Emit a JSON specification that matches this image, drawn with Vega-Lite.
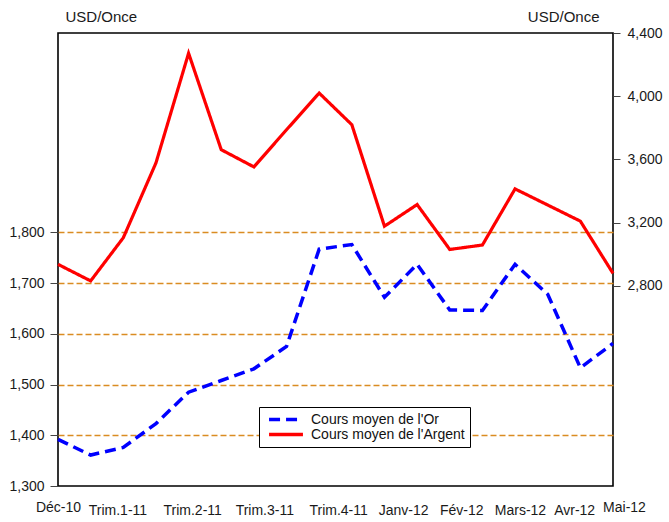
{
  "$schema": "https://vega.github.io/schema/vega-lite/v6.json",
  "width": 555,
  "height": 453,
  "autosize": {"type": "none"},
  "padding": {"left": 58, "top": 33, "right": 56, "bottom": 36},
  "background": "white",
  "config": {
    "view": {"stroke": "black", "strokeWidth": 1.6},
    "font": "Liberation Sans",
    "axis": {"labelFont": "Liberation Sans", "titleFont": "Liberation Sans", "labelColor": "#1a1a1a", "titleColor": "#1a1a1a", "titleFontWeight": "normal"}
  },
  "data": {
    "values": [
      {"i": 0, "series": "Cours moyen de l'Or", "value": 1392},
      {"i": 1, "series": "Cours moyen de l'Or", "value": 1361},
      {"i": 2, "series": "Cours moyen de l'Or", "value": 1376},
      {"i": 3, "series": "Cours moyen de l'Or", "value": 1423},
      {"i": 4, "series": "Cours moyen de l'Or", "value": 1485},
      {"i": 5, "series": "Cours moyen de l'Or", "value": 1508},
      {"i": 6, "series": "Cours moyen de l'Or", "value": 1531},
      {"i": 7, "series": "Cours moyen de l'Or", "value": 1575},
      {"i": 8, "series": "Cours moyen de l'Or", "value": 1767},
      {"i": 9, "series": "Cours moyen de l'Or", "value": 1776},
      {"i": 10, "series": "Cours moyen de l'Or", "value": 1672},
      {"i": 11, "series": "Cours moyen de l'Or", "value": 1737},
      {"i": 12, "series": "Cours moyen de l'Or", "value": 1647},
      {"i": 13, "series": "Cours moyen de l'Or", "value": 1646},
      {"i": 14, "series": "Cours moyen de l'Or", "value": 1737},
      {"i": 15, "series": "Cours moyen de l'Or", "value": 1678},
      {"i": 16, "series": "Cours moyen de l'Or", "value": 1533},
      {"i": 17, "series": "Cours moyen de l'Or", "value": 1581},
      {"i": 0, "series": "Cours moyen de l'Argent", "value": 2937},
      {"i": 1, "series": "Cours moyen de l'Argent", "value": 2832},
      {"i": 2, "series": "Cours moyen de l'Argent", "value": 3105},
      {"i": 3, "series": "Cours moyen de l'Argent", "value": 3578},
      {"i": 4, "series": "Cours moyen de l'Argent", "value": 4272},
      {"i": 5, "series": "Cours moyen de l'Argent", "value": 3662},
      {"i": 6, "series": "Cours moyen de l'Argent", "value": 3553},
      {"i": 7, "series": "Cours moyen de l'Argent", "value": 3788},
      {"i": 8, "series": "Cours moyen de l'Argent", "value": 4020},
      {"i": 9, "series": "Cours moyen de l'Argent", "value": 3820},
      {"i": 10, "series": "Cours moyen de l'Argent", "value": 3178},
      {"i": 11, "series": "Cours moyen de l'Argent", "value": 3315},
      {"i": 12, "series": "Cours moyen de l'Argent", "value": 3031},
      {"i": 13, "series": "Cours moyen de l'Argent", "value": 3059},
      {"i": 14, "series": "Cours moyen de l'Argent", "value": 3414},
      {"i": 15, "series": "Cours moyen de l'Argent", "value": 3312},
      {"i": 16, "series": "Cours moyen de l'Argent", "value": 3210},
      {"i": 17, "series": "Cours moyen de l'Argent", "value": 2880}
    ]
  },
  "encoding": {
    "x": {
      "field": "i",
      "type": "quantitative",
      "scale": {"domain": [0, 17], "nice": false, "zero": false},
      "axis": {
        "title": null,
        "domain": false,
        "ticks": false,
        "grid": false,
        "values": [0, 1.82, 4.11, 6.32, 8.58, 10.57, 12.35, 14.15, 15.81, 17],
        "labelExpr": "datum.value < 0.5 ? 'Déc-10' : datum.value < 3 ? 'Trim.1-11' : datum.value < 5 ? 'Trim.2-11' : datum.value < 7 ? 'Trim.3-11' : datum.value < 9 ? 'Trim.4-11' : datum.value < 11 ? 'Janv-12' : datum.value < 13 ? 'Fév-12' : datum.value < 15 ? 'Mars-12' : datum.value < 16.5 ? 'Avr-12' : 'Mai-12'",
        "labelFontSize": 14,
        "labelAlign": "center",
        "labelBaseline": "middle",
        "labelOffset": {"condition": {"test": "datum.value > 16.9", "value": 11}, "value": 0},
        "labelPadding": {"condition": {"test": "datum.value < 0.1 || datum.value > 16.9", "value": 21}, "value": 24},
        "labelFlush": false,
        "labelOverlap": false,
        "labelBound": false
      }
    },
    "color": {
      "field": "series",
      "type": "nominal",
      "scale": {"domain": ["Cours moyen de l'Or", "Cours moyen de l'Argent"], "range": ["#0000FF", "#FF0000"]},
      "legend": {
        "title": null,
        "orient": "none",
        "legendX": 201,
        "legendY": 374,
        "direction": "vertical",
        "fillColor": "white",
        "strokeColor": "black",
        "padding": 5,
        "cornerRadius": 0,
        "symbolType": "stroke",
        "symbolSize": 1150,
        "symbolStrokeWidth": 3.5,
        "symbolOffset": 3,
        "clipHeight": 15,
        "rowPadding": 0,
        "labelFontSize": 14,
        "labelFont": "Liberation Sans",
        "labelColor": "#111",
        "labelOffset": 6
      }
    },
    "strokeDash": {
      "field": "series",
      "type": "nominal",
      "scale": {"domain": ["Cours moyen de l'Or", "Cours moyen de l'Argent"], "range": [[11, 6], [1, 0]]},
      "legend": null
    }
  },
  "layer": [
    {
      "transform": [{"filter": "datum.series === \"Cours moyen de l'Or\""}],
      "mark": {"type": "line", "strokeWidth": 3.5},
      "encoding": {
        "y": {
          "field": "value",
          "type": "quantitative",
          "scale": {"domain": [1300, 2193], "nice": false, "zero": false},
          "axis": {
            "orient": "left",
            "values": [1300, 1400, 1500, 1600, 1700, 1800],
            "format": ",d",
            "domain": false,
            "tickSize": 8,
            "tickColor": "#444",
            "labelPadding": 6,
            "labelFontSize": 14,
            "grid": true,
            "gridDash": [6, 3],
            "gridWidth": 1.3,
            "gridColor": "#DA8C22",
            "gridOpacity": {"condition": {"test": "datum.value < 1350", "value": 0}, "value": 1},
            "title": "USD/Once",
            "titleAngle": 0,
            "titleFontSize": 15,
            "titleAlign": "left",
            "titleBaseline": "middle",
            "titleX": 7,
            "titleY": -17
          }
        }
      }
    },
    {
      "transform": [{"filter": "datum.series === \"Cours moyen de l'Argent\""}],
      "mark": {"type": "line", "strokeWidth": 3.2},
      "encoding": {
        "y": {
          "field": "value",
          "type": "quantitative",
          "scale": {"domain": [1535, 4400], "nice": false, "zero": false},
          "axis": {
            "orient": "right",
            "values": [2800, 3200, 3600, 4000, 4400],
            "format": ",d",
            "domain": false,
            "tickSize": 7,
            "tickColor": "#444",
            "labelPadding": 7,
            "labelFontSize": 14,
            "grid": false,
            "title": "USD/Once",
            "titleAngle": 0,
            "titleFontSize": 15,
            "titleAlign": "right",
            "titleBaseline": "middle",
            "titleX": -14,
            "titleY": -17
          }
        }
      }
    }
  ],
  "resolve": {"scale": {"y": "independent"}, "axis": {"y": "independent"}}
}
